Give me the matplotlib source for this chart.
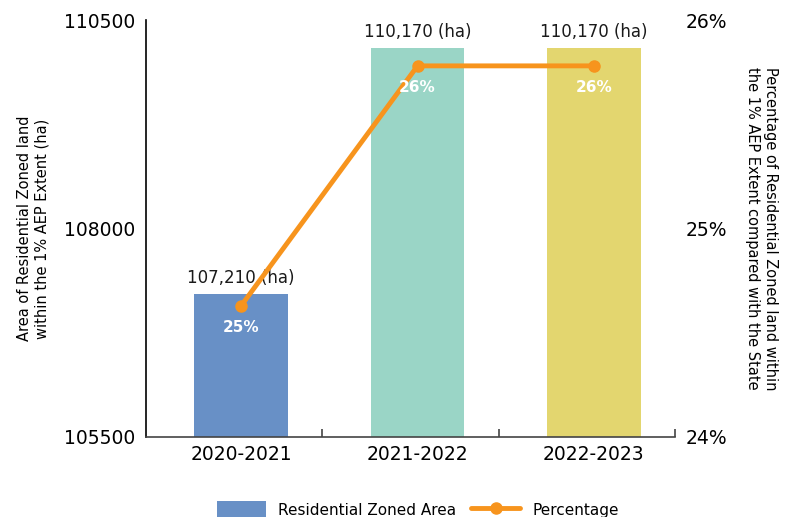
import numpy as np
import matplotlib
matplotlib.use("Agg")
import matplotlib.pyplot as plt
from matplotlib.ticker import FixedLocator

# ============ Data ============
years = ["2020-2021", "2021-2022", "2022-2023"]
area_ha = [107210, 110170, 110170]
area_labels = ["107,210 (ha)", "110,170 (ha)", "110,170 (ha)"]
pct = [24.63, 25.78, 25.78]
pct_labels = ["25%", "26%", "26%"]

bar_colors = ["#6890c6", "#9ad5c6", "#e3d66f"]
line_color = "#f7941d"

plt.rcParams["font.family"] = ["DejaVu Sans"]

fig = plt.figure(figsize=(7.92, 5.17), dpi=100)
ax = fig.add_axes([146 / 792, 80 / 517, 529 / 792, 417 / 517])
ax2 = ax.twinx()

x = np.arange(len(years))

# bars
ax.bar(x, area_ha, width=0.53, color=bar_colors, zorder=2,
       label="Residential Zoned Area")
ax.set_ylim(105500, 110500)
ax.set_xlim(-0.54, 2.46)
for xi, v, lab in zip(x, area_ha, area_labels):
    ax.annotate(lab, (xi, v), xytext=(0, 5), textcoords="offset points",
                ha="center", va="bottom", fontsize=12, color="#1a1a1a")

# line
ax2.plot(x, pct, color=line_color, lw=3.5, marker="o", ms=8, zorder=3,
         label="Percentage", solid_capstyle="round")
ax2.set_ylim(24, 26)
for xi, v, lab in zip(x, pct, pct_labels):
    ax2.annotate(lab, (xi, v), xytext=(0, -10), textcoords="offset points",
                 ha="center", va="top", fontsize=11, color="white",
                 fontweight="bold")

# left axis
ax.set_yticks([105500, 108000, 110500])
ax.tick_params(axis="y", length=0, labelsize=13.5, pad=8)
ax.yaxis.set_minor_locator(FixedLocator([110500]))
ax.tick_params(axis="y", which="minor", direction="in", length=9, width=1.2)
ax.set_ylabel("Area of Residential Zoned land\nwithin the 1% AEP Extent (ha)",
              fontsize=10.5, labelpad=10)

# x axis
ax.set_xticks(x)
ax.set_xticklabels(years)
ax.tick_params(axis="x", length=0, labelsize=13.5, pad=6)
ax.xaxis.set_minor_locator(FixedLocator([0.46, 1.46, 2.46]))
ax.tick_params(axis="x", which="minor", direction="in", length=6, width=1.2,
               color="#444444")

# right axis
ax2.set_yticks([24, 25, 26])
ax2.set_yticklabels(["24%", "25%", "26%"])
ax2.tick_params(axis="y", length=0, labelsize=13.5, pad=8)
ax2.set_ylabel("Percentage of Residential Zoned land within\nthe 1% AEP Extent compared with the State",
               fontsize=10.5, rotation=-90, labelpad=36)

for a in (ax, ax2):
    a.spines["top"].set_visible(False)
    a.spines["right"].set_visible(False)
ax2.spines["left"].set_visible(False)
ax2.spines["bottom"].set_visible(False)
ax.spines["left"].set_linewidth(1.2)
ax.spines["bottom"].set_linewidth(1.2)
ax.spines["bottom"].set_color("#444444")

# legend
h1, l1 = ax.get_legend_handles_labels()
h2, l2 = ax2.get_legend_handles_labels()
fig.legend([h1[0], h2[0]], [l1[0], l2[0]], loc="upper center",
           bbox_to_anchor=(418 / 792, 24 / 517), ncol=2, frameon=False,
           fontsize=11, handlelength=3.2, handleheight=1.6,
           columnspacing=1.0, borderpad=0)

fig.savefig("out.png", dpi=100)
